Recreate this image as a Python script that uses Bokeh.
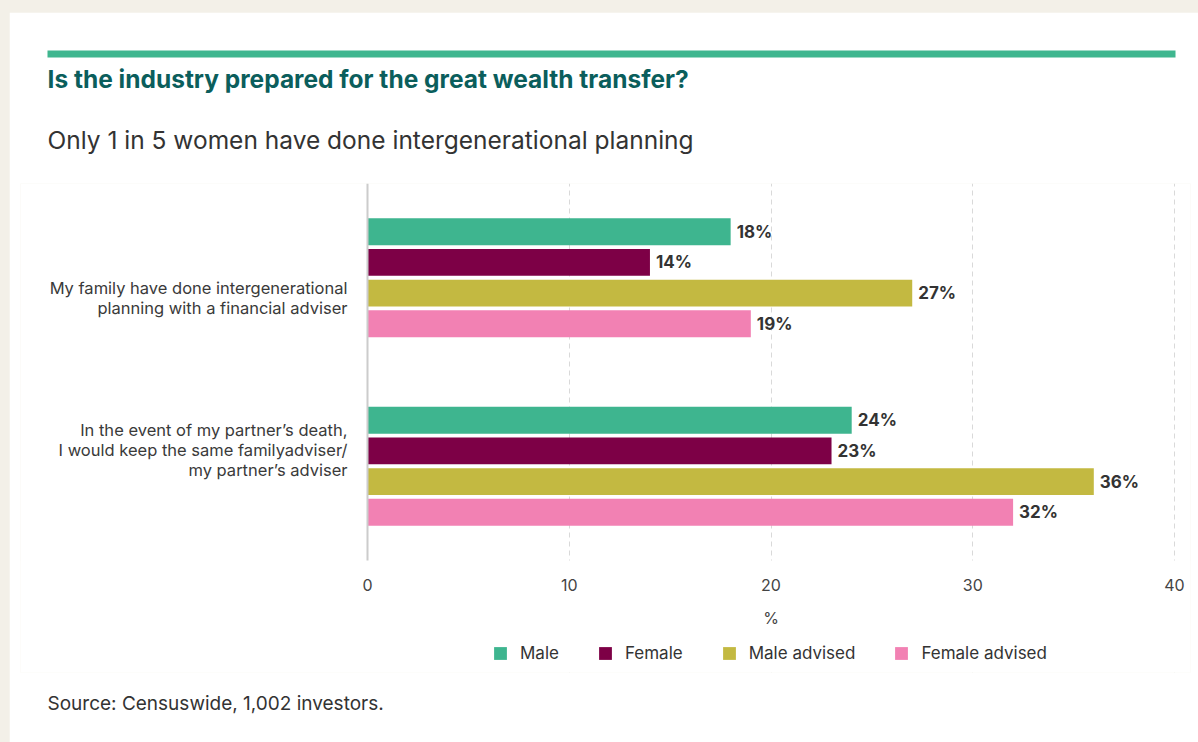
from bokeh.plotting import figure
from bokeh.layouts import column
from bokeh.models import (Range1d, FixedTicker, LabelSet, ColumnDataSource, Legend, LegendItem,
                          Title, ColorBar, LinearColorMapper, BoxAnnotation)
from bokeh.embed import file_html
from bokeh.resources import INLINE
from bokeh.core.properties import value

# ---------------- data ----------------
categories = [
    "My family have done intergenerational\nplanning with a financial adviser",
    "In the event of my partner\u2019s death,\nI would keep the same familyadviser/\nmy partner\u2019s adviser",
]
series = ["Male", "Female", "Male advised", "Female advised"]
male = [18, 24]
female = [14, 23]
male_advised = [27, 36]
female_advised = [19, 32]
x_ticks = [0, 10, 20, 30, 40]
grid_ticks = [10, 20, 30, 40]
colors = ["#3eb58f", "#7d0046", "#c3b941", "#f281b3"]

title_text = "Is the industry prepared for the great wealth transfer?"
subtitle_text = "Only 1 in 5 women have done intergenerational planning"
source_text = "Source: Censuswide, 1,002 investors."
x_label = "%"

# ---------------- layout (page pixels) ----------------
FONT = "Inter"
BEIGE = "#f3f0e8"
PAD_L, PAD_T = 9, 12
W, H = 1198 - PAD_L, 742 - PAD_T
ZERO_X, FORTY_X = 367, 1174          # page x of 0 % and 40 %
TOP_Y, BASE_Y = 183, 560             # page y of the chart top and of the baseline
FRAME_L, FRAME_R, FRAME_B = 20, 1190, 672
PX_X = (FORTY_X - ZERO_X) / 40.0
PX_Y = (BASE_Y - TOP_Y) / 2.0
x_start = -(ZERO_X - FRAME_L) / PX_X
x_end = 40 + (FRAME_R - FORTY_X) / PX_X
y_bottom = -(FRAME_B - BASE_Y) / PX_Y
TEXT_L = 47 - FRAME_L                # left edge of header/footer texts, relative to frame
RULE_PAD = 4

group_centers = [1.5, 0.5]
offsets = [0.2445, 0.0815, -0.0815, -0.2445]
bar_h = 0.143
label_pos = [1.391, 0.585]

p = figure(width=W, height=H, x_range=Range1d(x_start, x_end), y_range=Range1d(y_bottom, 2),
           output_backend="svg", toolbar_location=None, title=None,
           min_border_left=FRAME_L - PAD_L, min_border_right=1198 - FRAME_R,
           min_border_top=TOP_Y - PAD_T, min_border_bottom=742 - FRAME_B)
p.outline_line_color = None
p.background_fill_color = "white"
p.border_fill_color = "white"

p.xgrid.ticker = FixedTicker(ticks=grid_ticks)
p.xgrid.grid_line_color = "#d9d9d9"
p.xgrid.grid_line_dash = "5 4"
p.ygrid.grid_line_color = None
# white cover so that grid lines stop at the baseline
p.add_layout(BoxAnnotation(top=0, fill_color="white", fill_alpha=1, line_color=None,
                           level="underlay"))

values_all = [male, female, male_advised, female_advised]
renderers = []
for i, (name, vals) in enumerate(zip(series, values_all)):
    ys = [c + offsets[i] for c in group_centers]
    src = ColumnDataSource(dict(y=ys, right=vals, text=[f"{v}%" for v in vals]))
    r = p.hbar(y="y", left=0, right="right", height=bar_h, source=src,
               fill_color=colors[i], line_color=None)
    renderers.append(r)
    p.add_layout(LabelSet(x="right", y="y", text="text", source=src, x_offset=6,
                          text_baseline="middle", text_align="left",
                          text_font=value(FONT), text_font_style="bold",
                          text_font_size="17px", text_color="#333333"))

p.xaxis.fixed_location = 0
p.xaxis.bounds = (x_ticks[0], x_ticks[-1])
p.xaxis.ticker = FixedTicker(ticks=x_ticks)
p.xaxis.axis_line_color = None
p.xaxis.major_tick_line_color = None
p.xaxis.major_tick_out = 0
p.xaxis.major_tick_in = 0
p.xaxis.minor_tick_line_color = None
p.xaxis.major_label_standoff = 18
p.xaxis.major_label_text_font = FONT
p.xaxis.major_label_text_font_size = "16px"
p.xaxis.major_label_text_color = "#444444"
p.xaxis.axis_label = x_label
p.xaxis.axis_label_text_font = FONT
p.xaxis.axis_label_text_font_style = "normal"
p.xaxis.axis_label_text_font_size = "16px"
p.xaxis.axis_label_text_color = "#444444"
p.xaxis.axis_label_standoff = 14

p.yaxis.fixed_location = 0
p.yaxis.bounds = (0, 2)
p.yaxis.ticker = FixedTicker(ticks=label_pos)
p.yaxis.major_label_overrides = {label_pos[i]: categories[i] for i in range(len(categories))}
p.yaxis.major_tick_line_color = None
p.yaxis.major_tick_out = 0
p.yaxis.major_tick_in = 0
p.yaxis.minor_tick_line_color = None
p.yaxis.axis_line_color = "#cccccc"
p.yaxis.axis_line_width = 2
p.yaxis.major_label_standoff = 20
p.yaxis.major_label_text_font = FONT
p.yaxis.major_label_text_font_size = "16.5px"
p.yaxis.major_label_text_color = "#3a3a3a"
p.yaxis.major_label_text_line_height = 1.0

legend = Legend(items=[LegendItem(label=s, renderers=[r]) for s, r in zip(series, renderers)],
                orientation="horizontal", location=(494 - 2 - FRAME_L, 9),
                glyph_width=16, glyph_height=16, label_height=16, label_standoff=12,
                spacing=38, padding=0, margin=0,
                border_line_color=None, background_fill_alpha=0,
                label_text_font=FONT, label_text_font_size="17px",
                label_text_color="#333333")
p.add_layout(legend)

# source note below the frame
p.add_layout(Title(text=source_text, align="left", offset=TEXT_L, standoff=35,
                   text_font=FONT, text_font_style="normal", text_font_size="19px",
                   text_color="#333333"), "below")

# subtitle (nearest the frame), then title, then the green rule
p.add_layout(Title(text=subtitle_text, align="left", offset=TEXT_L, standoff=58,
                   text_font=FONT, text_font_style="normal", text_font_size="24.5px",
                   text_color="#333333"), "above")
p.add_layout(Title(text=title_text, align="left", offset=TEXT_L, standoff=0,
                   text_font=FONT, text_font_style="bold", text_font_size="24.5px",
                   text_color="#0b5e5c"), "above")
rule = ColorBar(color_mapper=LinearColorMapper(palette=["#3fb68f"], low=0, high=1),
                orientation="horizontal", width=1128, height=7, padding=RULE_PAD, margin=0,
                location=(TEXT_L - RULE_PAD, 0), ticker=FixedTicker(ticks=[]),
                major_label_text_font_size="0px", major_tick_line_color=None,
                minor_tick_line_color=None, bar_line_color=None, border_line_color=None,
                background_fill_alpha=0)
p.add_layout(rule, "above")

page = column(p, styles={"background-color": BEIGE, "padding-left": f"{PAD_L}px",
                         "padding-top": f"{PAD_T}px"})

open("out.html", "w").write(file_html(page, INLINE))
